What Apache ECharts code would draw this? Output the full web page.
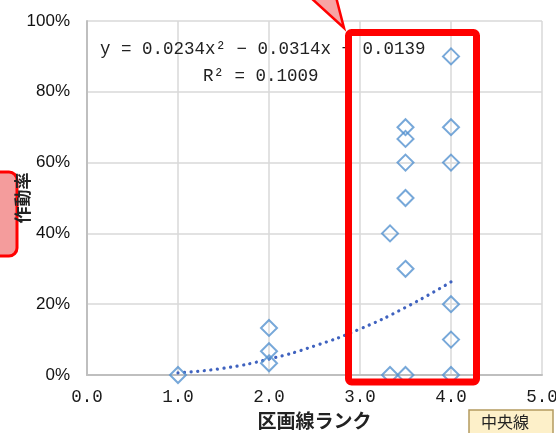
<!DOCTYPE html>
<html>
<head>
<meta charset="utf-8">
<script src="https://cdn.jsdelivr.net/npm/echarts@6/dist/echarts.min.js"></script>
<style>
  html, body { margin: 0; padding: 0; background: #fff; }
  #chart { width: 556px; height: 433px; }
</style>
</head>
<body>
<div id="chart"></div>
<script>
// 散布図の点（区画線ランク, 作動率）
var rankX = [1.0, 2.0, 2.0, 2.0, 3.33, 3.33, 3.5, 3.5, 3.5, 3.5, 3.5, 3.5, 4.0, 4.0, 4.0, 4.0, 4.0, 4.0];
var rateY = [0.0, 0.133, 0.067, 0.033, 0.40, 0.0, 0.70, 0.667, 0.60, 0.50, 0.30, 0.0, 0.90, 0.70, 0.60, 0.20, 0.10, 0.0];

// 近似曲線
var trendX = [1.0, 1.5, 2.0, 2.5, 3.0, 3.5, 4.0];
var trendY = [0.006, 0.019, 0.045, 0.082, 0.130, 0.191, 0.263];

var xTicks = ['0.0', '1.0', '2.0', '3.0', '4.0', '5.0'];
var yTicks = ['0%', '20%', '40%', '60%', '80%', '100%'];

var eqLine1 = 'y = 0.0234x² − 0.0314x + 0.0139';
var eqLine2 = 'R² = 0.1009';

var scatterData = rankX.map(function (x, i) { return [x, rateY[i]]; });
var trendData = trendX.map(function (x, i) { return [x, trendY[i]]; });

var myChart = echarts.init(document.getElementById('chart'));

var option = {
	animation: false,
	grid: { left: 87, right: 14, top: 21, bottom: 58, outerBoundsMode: 'none', containLabel: false },
	xAxis: {
		type: 'value',
		min: 0, max: 5, interval: 1,
		name: '区画線ランク',
		nameLocation: 'middle',
		nameGap: 36,
		nameTextStyle: { fontFamily: 'Noto Sans CJK JP', fontSize: 19, fontWeight: 'bold', color: '#222' },
		axisLine: { lineStyle: { color: '#bfbfbf', width: 2 } },
		axisTick: { show: false },
		axisLabel: {
			margin: 13,
			fontFamily: 'Liberation Mono', fontSize: 17.5, color: '#1a1a1a',
			formatter: function (v) { return xTicks[Math.round(v)]; }
		},
		splitLine: { show: true, lineStyle: { color: '#d9d9d9', width: 1.5 } }
	},
	yAxis: {
		type: 'value',
		min: 0, max: 1, interval: 0.2,
		name: '作動率',
		nameLocation: 'middle',
		nameGap: 56,
		nameMoveOverlap: false,
		nameTextStyle: { fontFamily: 'Noto Sans CJK JP', fontSize: 17, fontWeight: 'bold', color: '#222' },
		axisLine: { show: true, lineStyle: { color: '#bfbfbf', width: 2 } },
		axisTick: { show: false },
		axisLabel: {
			margin: 17,
			fontFamily: 'Liberation Sans', fontSize: 17, color: '#111',
			formatter: function (v) { return yTicks[Math.round(v * 5)]; }
		},
		splitLine: { show: true, lineStyle: { color: '#d9d9d9', width: 1.5 } }
	},
	series: [
		{
			type: 'line',
			data: trendData,
			smooth: true,
			showSymbol: false,
			lineStyle: { color: '#3f62bf', width: 3.2, type: [0.1, 6.5], cap: 'round' },
			z: 2
		},
		{
			type: 'scatter',
			data: scatterData,
			symbol: 'diamond',
			symbolSize: 16,
			itemStyle: { color: 'rgba(255,255,255,0)', borderColor: '#5592cf', borderWidth: 2 },
			z: 3
		}
	],
	graphic: {
		elements: [
			{
				type: 'text', left: 100, top: 40, z: 10,
				style: { text: eqLine1, fontFamily: 'Liberation Mono', fontSize: 17.5, fill: '#222' }
			},
			{
				type: 'text', left: 203, top: 67, z: 10,
				style: { text: eqLine2, fontFamily: 'Liberation Mono', fontSize: 17.5, fill: '#222' }
			},
			{
				type: 'rect', z: 20,
				shape: { x: 348.5, y: 32.5, width: 128, height: 349.5, r: 3 },
				style: { fill: 'none', stroke: '#ff0000', lineWidth: 7 }
			},
			{
				type: 'polygon', z: 20,
				shape: { points: [[310, -3], [336, -3], [344, 28]] },
				style: { fill: '#f7a3a3', stroke: '#ff0000', lineWidth: 2.5 }
			},
			{
				type: 'rect', z: -1,
				shape: { x: -12, y: 172, width: 29, height: 84, r: 8 },
				style: { fill: '#f49c9c', stroke: '#ff0000', lineWidth: 3 }
			},
			{
				type: 'rect', z: 10,
				shape: { x: 469, y: 410, width: 84, height: 30, r: 0 },
				style: { fill: '#fdf0c9', stroke: '#b49a5f', lineWidth: 1.5 }
			},
			{
				type: 'text', left: 481, top: 414, z: 11,
				style: { text: '中央線', fontFamily: 'Noto Sans CJK JP', fontSize: 16, fill: '#222' }
			}
		]
	}
};

myChart.setOption(option);
</script>
</body>
</html>
